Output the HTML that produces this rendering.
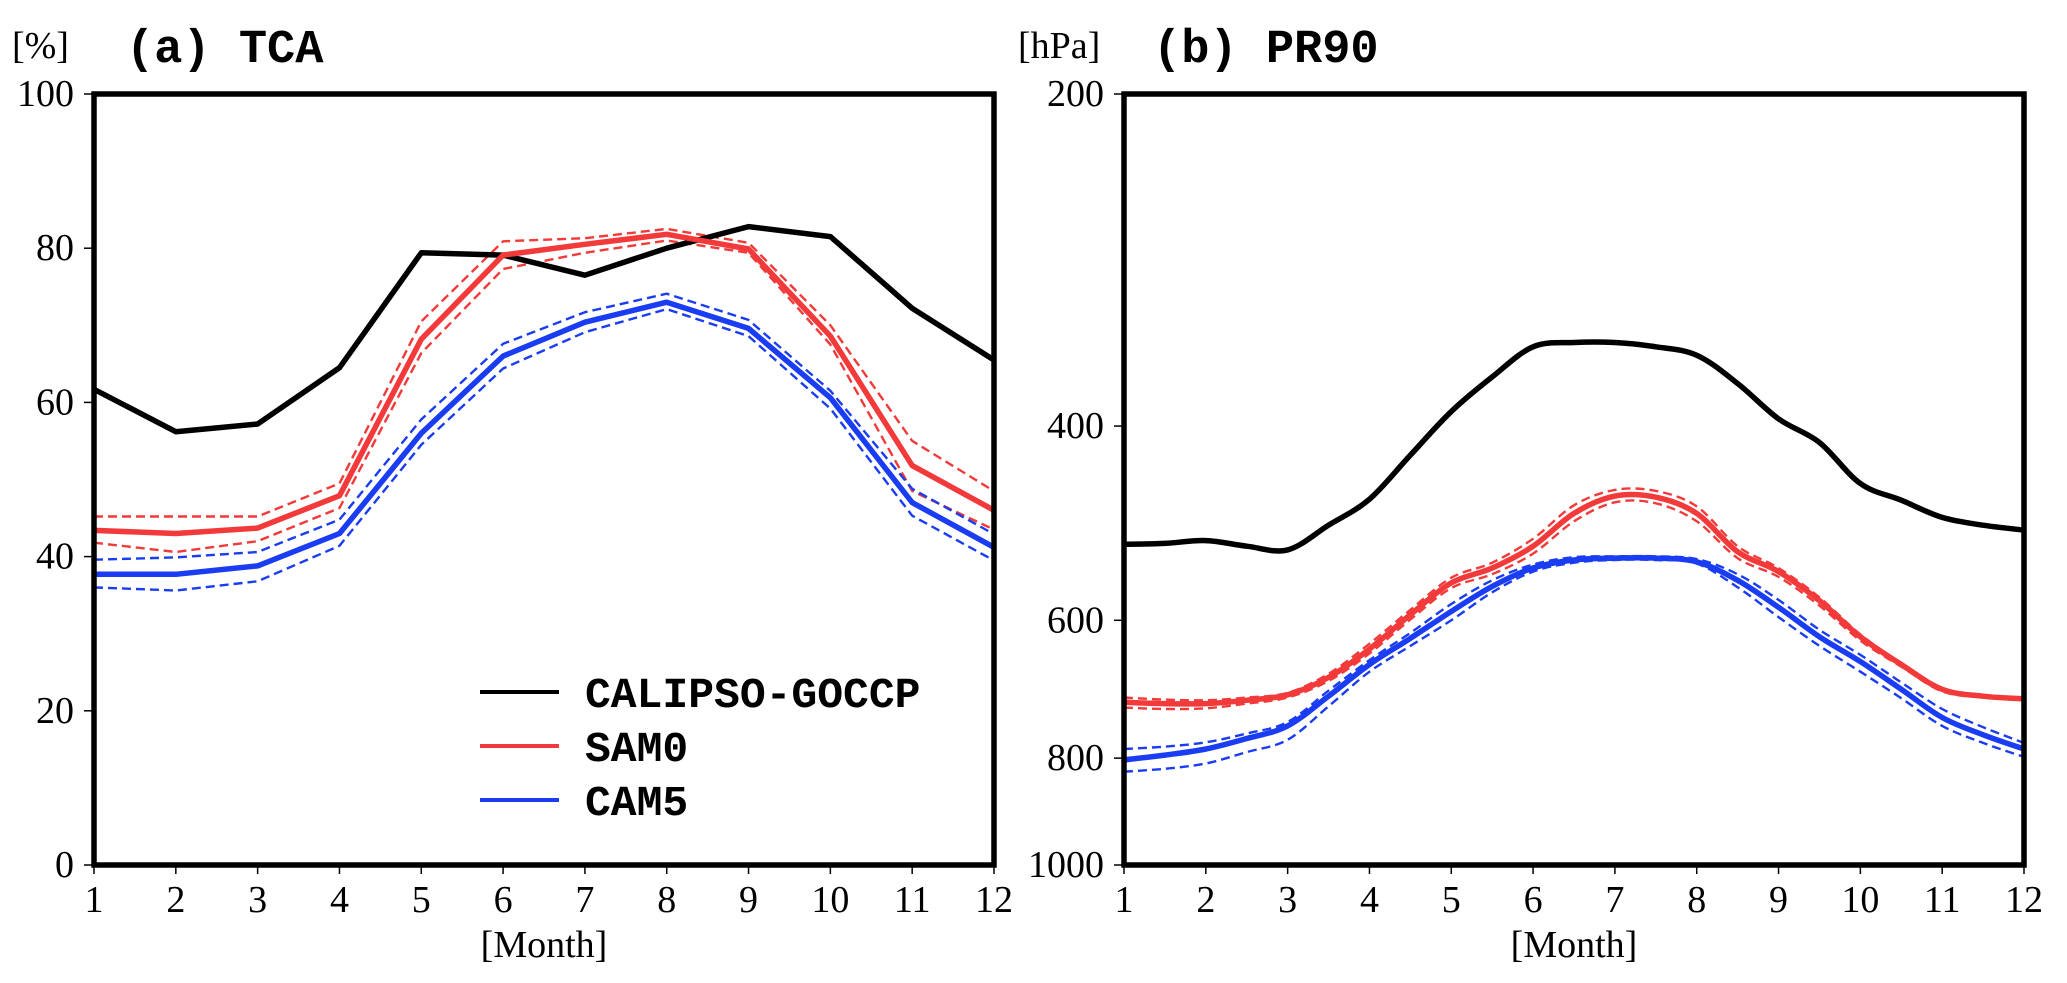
<!DOCTYPE html>
<html><head><meta charset="utf-8"><style>
html,body{margin:0;padding:0;background:#fff;}
svg{display:block;}
.tk{font-family:"Liberation Serif",serif;font-size:38px;fill:#000;}
.tt{font-family:"Liberation Mono",monospace;font-weight:bold;font-size:47px;fill:#000;}
.lg{font-family:"Liberation Mono",monospace;font-weight:bold;font-size:43px;fill:#000;}
</style></head><body>
<svg id="fig" width="2067" height="983" viewBox="0 0 2067 983" xmlns="http://www.w3.org/2000/svg">
<text x="12" y="58" class="tk">[%]</text>
<text x="126" y="62" class="tt">(a) TCA</text>
<text x="1018" y="58" class="tk">[hPa]</text>
<text x="1153" y="62" class="tt">(b) PR90</text>
<text x="544" y="957" class="tk" text-anchor="middle">[Month]</text>
<text x="1574" y="957" class="tk" text-anchor="middle">[Month]</text>
<g id="legend">
<line x1="480" y1="692" x2="559" y2="692" stroke="#000" stroke-width="4"/>
<text x="585" y="707" class="lg">CALIPSO-GOCCP</text>
<line x1="480" y1="746" x2="559" y2="746" stroke="#f23a3a" stroke-width="4"/>
<text x="585" y="761" class="lg">SAM0</text>
<line x1="480" y1="800" x2="559" y2="800" stroke="#1a3cf2" stroke-width="4"/>
<text x="585" y="815" class="lg">CAM5</text>
</g>
</svg>
<script>
// ---- Panel (a) TCA data ----
const monthsA = [1,2,3,4,5,6,7,8,9,10,11,12];
const tcaObs = [61.7,56.2,57.2,64.5,79.4,79.1,76.5,80.0,82.8,81.5,72.2,65.5];
const tcaSam = [43.4,43.0,43.7,47.9,68.2,79.1,80.5,81.8,79.9,68.6,51.8,46.0];
const tcaSamHi = [45.2,45.2,45.2,49.5,70.5,80.9,81.3,82.5,80.7,70.0,55.0,48.5];
const tcaSamLo = [41.8,40.6,42.0,46.3,66.4,77.3,79.4,81.0,79.4,67.5,48.5,43.5];
const tcaCam = [37.7,37.7,38.8,43.0,56.0,66.0,70.4,73.0,69.6,60.6,47.0,41.2];
const tcaCamHi = [39.6,39.9,40.6,44.8,57.8,67.6,71.7,74.1,70.7,61.5,48.8,42.9];
const tcaCamLo = [36.0,35.6,36.8,41.4,54.5,64.4,69.1,72.1,68.6,59.2,45.3,39.5];
const yTicksA = [0,20,40,60,80,100];
// ---- Panel (b) PR90 data ----
const monthsB = [1,1.5,2,2.5,3,3.5,4,4.5,5,5.5,6,6.5,7,7.5,8,8.5,9,9.5,10,10.5,11,11.5,12];
const prObs = [512,511,508,514,518,492,466,425,388,361,339,336,336,339,345,366,394,414,451,467,484,492,497];
const prSam = [712,714,714,709,701,676,637,593,555,538,514,480,463,464,480,520,542,576,621,658,693,703,707];
const prSamHi = [705,708,709,705,698,671,630,587,549,532,506,472,457,458,473,514,538,572,618,656,691,702,706];
const prSamLo = [720,722,721,714,705,681,643,599,561,545,522,488,469,470,488,527,548,582,626,661,696,705,709];
const prCam = [803,795,785,768,748,703,658,623,589,559,538,529,527,527,531,552,584,621,654,693,735,762,785];
const prCamHi = [785,781,774,760,742,695,652,616,580,552,534,526,525,525,528,545,575,612,645,683,722,750,775];
const prCamLo = [823,818,809,790,770,718,668,633,600,566,542,532,529,529,533,560,596,633,668,706,748,775,798];
const yTicksB = [200,400,600,800,1000];
const xTicks = [1,2,3,4,5,6,7,8,9,10,11,12];

const NS = "http://www.w3.org/2000/svg";
const svg = document.getElementById('fig');
const TOP = 94, BOT = 865;
const A = {L:94, R:994}, B = {L:1124, R:2024};
function xA(m){return A.L + (m-1)*(A.R-A.L)/11;}
function xB(m){return B.L + (m-1)*(B.R-B.L)/11;}
function yA(v){return BOT - v/100*(BOT-TOP);}
function yB(p){return TOP + Math.log(p/200)/Math.log(5)*(BOT-TOP);}
const RED = "#f23a3a", BLUE = "#1a3cf2";

function mk(tag, attrs){const e=document.createElementNS(NS,tag);for(const k in attrs)e.setAttribute(k,attrs[k]);return e;}

function polyPath(xs, ys){return xs.map((x,i)=>(i?'L':'M')+x.toFixed(1)+' '+ys[i].toFixed(1)).join(' ');}
function smoothPath(xs, ys){
  let d='M'+xs[0].toFixed(1)+' '+ys[0].toFixed(1);
  for(let i=0;i<xs.length-1;i++){
    const x0=xs[Math.max(i-1,0)],y0=ys[Math.max(i-1,0)],x1=xs[i],y1=ys[i],x2=xs[i+1],y2=ys[i+1],x3=xs[Math.min(i+2,xs.length-1)],y3=ys[Math.min(i+2,xs.length-1)];
    d+=' C'+(x1+(x2-x0)/6).toFixed(1)+' '+(y1+(y2-y0)/6).toFixed(1)+' '+(x2-(x3-x1)/6).toFixed(1)+' '+(y2-(y3-y1)/6).toFixed(1)+' '+x2.toFixed(1)+' '+y2.toFixed(1);
  }
  return d;
}

const clipA = mk('clipPath',{id:'ca'}); clipA.appendChild(mk('rect',{x:A.L,y:TOP,width:A.R-A.L,height:BOT-TOP}));
const clipB = mk('clipPath',{id:'cb'}); clipB.appendChild(mk('rect',{x:B.L,y:TOP,width:B.R-B.L,height:BOT-TOP}));
const defs = mk('defs',{}); defs.appendChild(clipA); defs.appendChild(clipB); svg.appendChild(defs);

function addSeries(d, color, dashed, clip, name){
  const p = mk('path',{d:d,fill:'none',stroke:color,'stroke-width':dashed?2.4:5.5,'stroke-linejoin':'round','clip-path':'url(#'+clip+')'});
  if(dashed) p.setAttribute('stroke-dasharray','9 5');
  
  
  svg.appendChild(p);
}

// Panel A series
const xsA = monthsA.map(xA);
addSeries(polyPath(xsA, tcaSamHi.map(yA)), RED, true, 'ca', 'sam0-tca-upper');
addSeries(polyPath(xsA, tcaSamLo.map(yA)), RED, true, 'ca', 'sam0-tca-lower');
addSeries(polyPath(xsA, tcaCamHi.map(yA)), BLUE, true, 'ca', 'cam5-tca-upper');
addSeries(polyPath(xsA, tcaCamLo.map(yA)), BLUE, true, 'ca', 'cam5-tca-lower');
addSeries(polyPath(xsA, tcaObs.map(yA)), '#000', false, 'ca', 'calipso-tca-line');
addSeries(polyPath(xsA, tcaSam.map(yA)), RED, false, 'ca', 'sam0-tca-line');
addSeries(polyPath(xsA, tcaCam.map(yA)), BLUE, false, 'ca', 'cam5-tca-line');

// Panel B series
const xsB = monthsB.map(xB);
addSeries(smoothPath(xsB, prSamHi.map(yB)), RED, true, 'cb', 'sam0-pr90-upper');
addSeries(smoothPath(xsB, prSamLo.map(yB)), RED, true, 'cb', 'sam0-pr90-lower');
addSeries(smoothPath(xsB, prCamHi.map(yB)), BLUE, true, 'cb', 'cam5-pr90-upper');
addSeries(smoothPath(xsB, prCamLo.map(yB)), BLUE, true, 'cb', 'cam5-pr90-lower');
addSeries(smoothPath(xsB, prObs.map(yB)), '#000', false, 'cb', 'calipso-pr90-line');
addSeries(smoothPath(xsB, prSam.map(yB)), RED, false, 'cb', 'sam0-pr90-line');
addSeries(smoothPath(xsB, prCam.map(yB)), BLUE, false, 'cb', 'cam5-pr90-line');

// Frames
const fA = mk('rect',{x:A.L,y:TOP,width:A.R-A.L,height:BOT-TOP,fill:'none',stroke:'#000','stroke-width':5.5});


svg.appendChild(fA);
const fB = mk('rect',{x:B.L,y:TOP,width:B.R-B.L,height:BOT-TOP,fill:'none',stroke:'#000','stroke-width':5.5});


svg.appendChild(fB);

// X ticks
[[A,xA,'left'],[B,xB,'right']].forEach(([P,fx,side])=>{
  xTicks.forEach(m=>{
    const x=fx(m);
    svg.appendChild(mk('line',{x1:x,y1:BOT,x2:x,y2:BOT+9,stroke:'#000','stroke-width':1.5}));
    const t=mk('text',{x:x,y:912,'text-anchor':'middle','class':'tk'});
    t.textContent=m;
    
    
    svg.appendChild(t);
  });
});
// Y ticks
yTicksA.forEach(v=>{
  const y=yA(v);
  svg.appendChild(mk('line',{x1:A.L-10,y1:y,x2:A.L,y2:y,stroke:'#000','stroke-width':1.5}));
  const t=mk('text',{x:A.L-20,y:y+12,'text-anchor':'end','class':'tk'});
  t.textContent=v;
  
  
  svg.appendChild(t);
});
yTicksB.forEach(v=>{
  const y=yB(v);
  svg.appendChild(mk('line',{x1:B.L-10,y1:y,x2:B.L,y2:y,stroke:'#000','stroke-width':1.5}));
  const t=mk('text',{x:B.L-20,y:y+12,'text-anchor':'end','class':'tk'});
  t.textContent=v;
  
  
  svg.appendChild(t);
});
svg.appendChild(document.getElementById('legend'));
</script>
</body></html>
